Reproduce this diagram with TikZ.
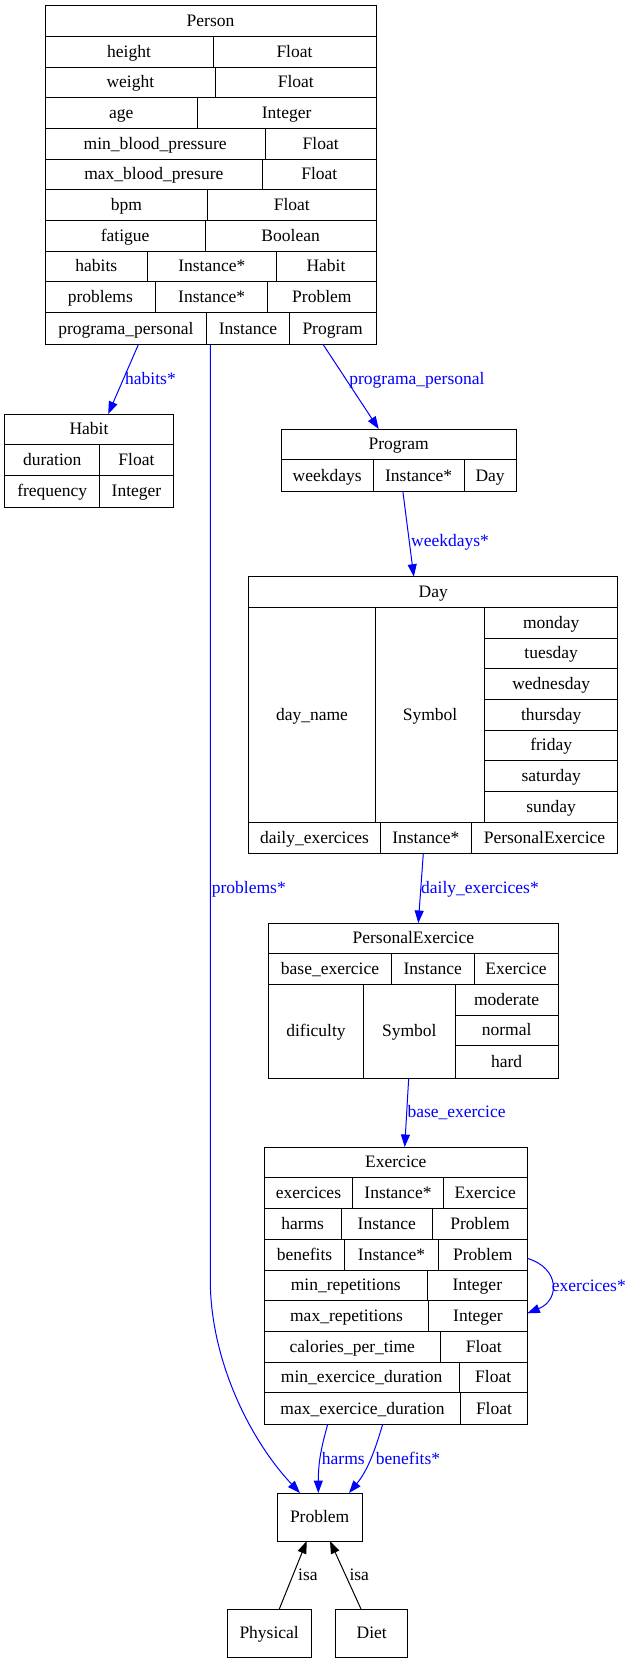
\documentclass[tikz,border=0pt]{standalone}
\usepackage{fontspec}
\setmainfont{Liberation Serif}
\usetikzlibrary{arrows.meta,calc}

\tikzset{
  every picture/.style={x=1pt,y=-1pt},
  cellbox/.style={draw=black, line width=0.9pt, inner sep=0pt, outer sep=0pt,
    font=\fontsize{17.5}{21}\selectfont, text height=13.1pt, text depth=1.9pt, anchor=center},
  link/.style={draw=blue, line width=1pt, -{Triangle[length=12.5pt,width=9pt]}},
  isalink/.style={draw=black, line width=1pt, -{Triangle[length=12.5pt,width=9pt]}},
  linklabel/.style={text=blue, inner sep=0pt, anchor=base west, font=\fontsize{17.5}{21}\selectfont},
  isalabel/.style={text=black, inner sep=0pt, anchor=base west, font=\fontsize{17.5}{21}\selectfont}
}

% one field of a record: name, left, top, right, bottom, text
\newcommand{\cell}[6]{%
  \node[cellbox, minimum width={(#4)-(#2)}, minimum height={(#5)-(#3)}]
    (#1) at ({((#2)+(#4))/2},{((#3)+(#5))/2}) {#6};}

\begin{document}
\begin{tikzpicture}
\useasboundingbox (0,0) rectangle (633,1663);

% ---- Person ----
\cell{pT}{45}{5.7}{376}{36.3}{Person}
\cell{p1a}{45}{36.3}{213}{67}{height}
\cell{p1b}{213}{36.3}{376}{67}{Float}
\cell{p2a}{45}{67}{215.7}{97.7}{weight}
\cell{p2b}{215.7}{67}{376}{97.7}{Float}
\cell{p3a}{45}{97.7}{197.3}{128.3}{age}
\cell{p3b}{197.3}{97.7}{376}{128.3}{Integer}
\cell{p4a}{45}{128.3}{265.3}{159}{min\_blood\_pressure}
\cell{p4b}{265.3}{128.3}{376}{159}{Float}
\cell{p5a}{45}{159}{262.7}{189.7}{max\_blood\_presure}
\cell{p5b}{262.7}{159}{376}{189.7}{Float}
\cell{p6a}{45}{189.7}{207.7}{220.3}{bpm}
\cell{p6b}{207.7}{189.7}{376}{220.3}{Float}
\cell{p7a}{45}{220.3}{205.3}{251}{fatigue}
\cell{p7b}{205.3}{220.3}{376}{251}{Boolean}
\cell{p8a}{45}{251}{147.7}{281.7}{habits}
\cell{p8b}{147.7}{251}{276}{281.7}{Instance*}
\cell{p8c}{276}{251}{376}{281.7}{Habit}
\cell{p9a}{45}{281.7}{155.7}{312.7}{problems}
\cell{p9b}{155.7}{281.7}{267.7}{312.7}{Instance*}
\cell{p9c}{267.7}{281.7}{376}{312.7}{Problem}
\cell{p10a}{45}{312.7}{206.7}{344.3}{programa\_personal}
\cell{p10b}{206.7}{312.7}{289.3}{344.3}{Instance}
\cell{p10c}{289.3}{312.7}{376}{344.3}{Program}

% ---- Habit ----
\cell{hT}{4.8}{414}{173.2}{444.7}{Habit}
\cell{h1a}{4.8}{444.7}{99.7}{475}{duration}
\cell{h1b}{99.7}{444.7}{173.2}{475}{Float}
\cell{h2a}{4.8}{475}{99.7}{507}{frequency}
\cell{h2b}{99.7}{475}{173.2}{507}{Integer}

% ---- Program ----
\cell{gT}{281.4}{429}{516}{459.7}{Program}
\cell{g1a}{281.4}{459.7}{373}{491.7}{weekdays}
\cell{g1b}{373}{459.7}{464.3}{491.7}{Instance*}
\cell{g1c}{464.3}{459.7}{516}{491.7}{Day}

% ---- Day ----
\cell{dT}{248.7}{576.7}{617.7}{607}{Day}
\cell{dName}{248.7}{607}{375.3}{822}{day\_name}
\cell{dSym}{375.3}{607}{484.7}{822}{Symbol}
\cell{d1}{484.7}{607}{617.7}{638}{monday}
\cell{d2}{484.7}{638}{617.7}{668.7}{tuesday}
\cell{d3}{484.7}{668.7}{617.7}{699.3}{wednesday}
\cell{d4}{484.7}{699.3}{617.7}{730}{thursday}
\cell{d5}{484.7}{730}{617.7}{760.7}{friday}
\cell{d6}{484.7}{760.7}{617.7}{791.3}{saturday}
\cell{d7}{484.7}{791.3}{617.7}{822}{sunday}
\cell{d8a}{248.7}{822}{380.3}{853.7}{daily\_exercices}
\cell{d8b}{380.3}{822}{471.3}{853.7}{Instance*}
\cell{d8c}{471.3}{822}{617.7}{853.7}{PersonalExercice}

% ---- PersonalExercice ----
\cell{eT}{268.7}{923}{558}{953.7}{PersonalExercice}
\cell{e1a}{268.7}{953.7}{391.3}{984.3}{base\_exercice}
\cell{e1b}{391.3}{953.7}{474}{984.3}{Instance}
\cell{e1c}{474}{953.7}{558}{984.3}{Exercice}
\cell{eDif}{268.7}{984.3}{363.3}{1078}{dificulty}
\cell{eSym}{363.3}{984.3}{455.3}{1078}{Symbol}
\cell{e2}{455.3}{984.3}{558}{1015}{moderate}
\cell{e3}{455.3}{1015}{558}{1045.7}{normal}
\cell{e4}{455.3}{1045.7}{558}{1078}{hard}

% ---- Exercice ----
\cell{xT}{264.3}{1147}{527.3}{1177.7}{Exercice}
\cell{x1a}{264.3}{1177.7}{352.7}{1208.7}{exercices}
\cell{x1b}{352.7}{1177.7}{443.3}{1208.7}{Instance*}
\cell{x1c}{443.3}{1177.7}{527.3}{1208.7}{Exercice}
\cell{x2a}{264.3}{1208.7}{341}{1239.3}{harms}
\cell{x2b}{341}{1208.7}{432.7}{1239.3}{Instance}
\cell{x2c}{432.7}{1208.7}{527.3}{1239.3}{Problem}
\cell{x3a}{264.3}{1239.3}{344.7}{1270}{benefits}
\cell{x3b}{344.7}{1239.3}{438.3}{1270}{Instance*}
\cell{x3c}{438.3}{1239.3}{527.3}{1270}{Problem}
\cell{x4a}{264.3}{1270}{427.3}{1300.7}{min\_repetitions}
\cell{x4b}{427.3}{1270}{527.3}{1300.7}{Integer}
\cell{x5a}{264.3}{1300.7}{428.7}{1331.3}{max\_repetitions}
\cell{x5b}{428.7}{1300.7}{527.3}{1331.3}{Integer}
\cell{x6a}{264.3}{1331.3}{440.3}{1362}{calories\_per\_time}
\cell{x6b}{440.3}{1331.3}{527.3}{1362}{Float}
\cell{x7a}{264.3}{1362}{459}{1392.7}{min\_exercice\_duration}
\cell{x7b}{459}{1362}{527.3}{1392.7}{Float}
\cell{x8a}{264.3}{1392.7}{460.7}{1424.3}{max\_exercice\_duration}
\cell{x8b}{460.7}{1392.7}{527.3}{1424.3}{Float}

% ---- Problem and its subclasses ----
\cell{problem}{277}{1493}{362.3}{1541}{Problem}
\cell{physical}{227}{1609}{311.3}{1657.3}{Physical}
\cell{diet}{335.7}{1609}{407.7}{1657.3}{Diet}

% ---- references ----
\draw[link] ($(p10a.south west)+(93.5,0)$) -- ($(hT.north west)+(103.4,0)$);
\node[linklabel] (lHabits) at (125,384.3) {habits*};

\draw[link] ($(p10c.south west)+(33.7,0)$) -- ($(gT.north west)+(97.3,0)$);
\node[linklabel] (lProg) at (349.2,384.3) {programa\_personal};

\coordinate (ps) at ($(p10b.south west)+(3.6,0)$);
\draw[link] (ps) -- ($(ps)+(0,935.7)$)
  .. controls ($(ps)+(0,1015.7)$) and ($(problem.north west)+(-27,-53)$)
  .. ($(problem.north west)+(23,0)$);
\node[linklabel] (lProblems) at (211.7,893.3) {problems*};

\draw[link] ($(g1b.south west)+(29.9,0)$) -- ($(dT.north west)+(165.1,0)$);
\node[linklabel] (lWeek) at (411,546.7) {weekdays*};

\draw[link] ($(d8b.south west)+(43,0)$) -- ($(eT.north west)+(149.6,0)$);
\node[linklabel] (lDaily) at (421,893.3) {daily\_exercices*};

\draw[link] ($(eSym.south west)+(45.4,0)$) -- ($(xT.north west)+(140.4,0)$);
\node[linklabel] (lBase) at (407.3,1117.7) {base\_exercice};

\draw[link] ($(x3c.east)+(0,3.7)$)
  .. controls ($(x3c.east)+(32.7,13.4)$) and ($(x5b.east)+(32.7,-16)$)
  .. ($(x5b.east)+(0,-2.7)$);
\node[linklabel] (lEx) at (551.7,1291) {exercices*};

\draw[link] ($(x8a.south west)+(63.4,0)$)
  .. controls ($(x8a.south west)+(57.7,20.7)$) and ($(problem.north west)+(41.3,-33)$)
  .. ($(problem.north west)+(41.3,0)$);
\node[linklabel] (lHarms) at (321.7,1464) {harms};

\draw[link] ($(x8a.south west)+(118.4,0)$)
  .. controls ($(x8a.south west)+(110.7,25.7)$) and ($(problem.north west)+(91,-23)$)
  .. ($(problem.north west)+(72,0)$);
\node[linklabel] (lBen) at (375.7,1464) {benefits*};

% ---- inheritance ----
\draw[isalink] ($(physical.north west)+(52.3,0)$) -- ($(problem.south west)+(29.7,0)$);
\node[isalabel] (lIsa1) at (298,1580) {isa};
\draw[isalink] ($(diet.north west)+(25.3,0)$) -- ($(problem.south west)+(53,0)$);
\node[isalabel] (lIsa2) at (349.3,1580) {isa};

\end{tikzpicture}
\end{document}
